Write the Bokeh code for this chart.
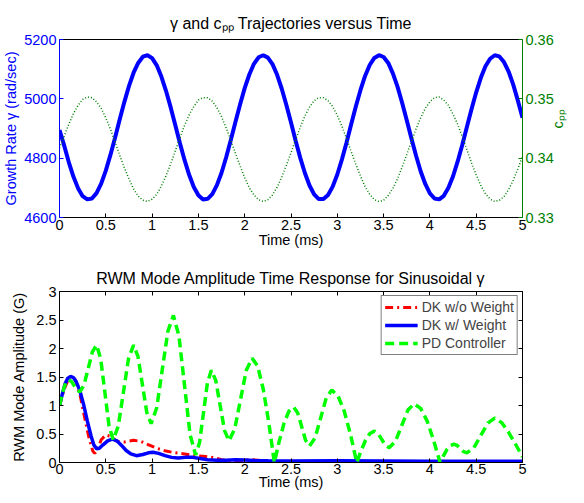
import math
from bokeh.plotting import figure
from bokeh.models import (Range1d, LinearAxis, FixedTicker, NumeralTickFormatter,
                          Legend, LegendItem)
from bokeh.layouts import column
from bokeh.embed import file_html
from bokeh.resources import INLINE

FONT = "Liberation Sans"
TICK_FS = "14.5px"
LABEL_FS = "14.5px"
TITLE_FS = "16px"
BLUE = "#0000ff"
GREEN_DK = "#008000"
LIME = "#00ff00"
RED = "#ff0000"

# ---------------- top panel data ----------------
time_ms = [i / 20 for i in range(101)]
growth_rate = [
    4895, 4843, 4787, 4738, 4699, 4672, 4661, 4664, 4682, 4714,
    4758, 4811, 4869, 4930, 4989, 5043, 5088, 5121, 5142, 5147,
    5137, 5113, 5075, 5027, 4972, 4912, 4851, 4794, 4744, 4703,
    4675, 4661, 4663, 4679, 4709, 4751, 4803, 4861, 4922, 4981,
    5036, 5082, 5118, 5140, 5147, 5139, 5117, 5081, 5034, 4979,
    4920, 4859, 4801, 4750, 4708, 4678, 4662, 4662, 4676, 4704,
    4745, 4796, 4853, 4914, 4974, 5029, 5077, 5114, 5138, 5147,
    5141, 5121, 5086, 5041, 4987, 4928, 4867, 4809, 4756, 4713,
    4681, 4664, 4661, 4673, 4700, 4739, 4789, 4845, 4906, 4966,
    5022, 5071, 5110, 5135, 5147, 5143, 5124, 5092, 5048, 4994,
    4936,
]
c_pp = [
    0.3417, 0.3437, 0.3457, 0.3475, 0.3489, 0.3499, 0.3503, 0.3502, 0.3495, 0.3484,
    0.3468, 0.3449, 0.3427, 0.3405, 0.3384, 0.3365, 0.3348, 0.3336, 0.3329, 0.3327,
    0.3331, 0.3339, 0.3353, 0.3370, 0.3390, 0.3412, 0.3434, 0.3455, 0.3473, 0.3487,
    0.3498, 0.3502, 0.3502, 0.3496, 0.3485, 0.3470, 0.3451, 0.3430, 0.3408, 0.3387,
    0.3367, 0.3350, 0.3338, 0.3330, 0.3327, 0.3330, 0.3338, 0.3351, 0.3368, 0.3388,
    0.3409, 0.3431, 0.3452, 0.3471, 0.3486, 0.3497, 0.3502, 0.3502, 0.3497, 0.3487,
    0.3472, 0.3454, 0.3433, 0.3411, 0.3390, 0.3370, 0.3352, 0.3339, 0.3330, 0.3327,
    0.3329, 0.3337, 0.3349, 0.3365, 0.3385, 0.3406, 0.3428, 0.3449, 0.3468, 0.3484,
    0.3495, 0.3502, 0.3503, 0.3498, 0.3489, 0.3474, 0.3457, 0.3436, 0.3414, 0.3392,
    0.3372, 0.3354, 0.3340, 0.3331, 0.3327, 0.3329, 0.3335, 0.3347, 0.3363, 0.3382,
    0.3403,
]

# ---------------- bottom panel data ----------------
dk_wo_t = [0, 0.05, 0.10, 0.13, 0.17, 0.22, 0.27, 0.32, 0.36, 0.38,
           0.41, 0.45, 0.50, 0.55, 0.62, 0.70, 0.80, 0.88, 0.95, 1.05,
           1.15, 1.25, 1.35, 1.45, 1.55, 1.65, 1.75, 1.85, 1.95, 2.05,
           2.15, 2.30, 2.50, 3.00, 4.00, 5.00]
dk_wo_amp = [1.00, 1.28, 1.48, 1.52, 1.45, 1.20, 0.80, 0.42, 0.20, 0.16,
             0.22, 0.40, 0.48, 0.46, 0.37, 0.36, 0.39, 0.37, 0.32, 0.25,
             0.20, 0.17, 0.15, 0.12, 0.11, 0.09, 0.05, 0.02, 0.03, 0.05,
             0.04, 0.02, 0.01, 0.01, 0.01, 0.01]

dk_w_t = [0, 0.03, 0.06, 0.09, 0.12, 0.15, 0.18, 0.22, 0.26, 0.30,
          0.34, 0.37, 0.40, 0.43, 0.47, 0.52, 0.57, 0.62, 0.67, 0.72,
          0.77, 0.83, 0.90, 0.96, 1.01, 1.07, 1.14, 1.21, 1.28, 1.36,
          1.44, 1.52, 1.60, 1.70, 1.80, 1.90, 2.00, 2.10, 2.25, 2.50,
          3.00, 3.50, 4.00, 4.50, 5.00]
dk_w_amp = [1.00, 1.20, 1.38, 1.48, 1.51, 1.49, 1.42, 1.26, 1.02, 0.73,
            0.47, 0.31, 0.24, 0.25, 0.31, 0.38, 0.41, 0.38, 0.30, 0.21,
            0.15, 0.12, 0.14, 0.17, 0.18, 0.16, 0.12, 0.09, 0.08, 0.09,
            0.09, 0.07, 0.05, 0.04, 0.04, 0.05, 0.045, 0.035, 0.03, 0.025,
            0.03, 0.025, 0.02, 0.02, 0.02]

pd_t = [0,
        0.025, 0.05, 0.075, 0.10,
        0.13, 0.16, 0.19, 0.22,
        0.265, 0.31, 0.355, 0.40,
        0.445, 0.49, 0.535, 0.58,
        0.635, 0.69, 0.745, 0.80,
        0.8475, 0.895, 0.9425, 0.99,
        1.05, 1.11, 1.17, 1.23,
        1.29, 1.35, 1.41, 1.47,
        1.5125, 1.555, 1.5975, 1.64,
        1.6875, 1.735, 1.7825, 1.83,
        1.8925, 1.955, 2.0175, 2.08,
        2.14, 2.20, 2.26, 2.32,
        2.3725, 2.425, 2.4775, 2.53,
        2.5725, 2.615, 2.6575, 2.70,
        2.76, 2.82, 2.88, 2.94,
        3.0075, 3.075, 3.1425, 3.21,
        3.2575, 3.305, 3.3525, 3.40,
        3.44, 3.48, 3.52, 3.56,
        3.6275, 3.695, 3.7625, 3.83,
        3.90, 3.97, 4.04, 4.11,
        4.1475, 4.185, 4.2225, 4.26,
        4.295, 4.33, 4.365, 4.40,
        4.475, 4.55, 4.625, 4.70,
        4.775, 4.85, 4.925, 5.00]
pd_amp = [1.00,
          1.17, 1.32, 1.42, 1.45,
          1.42, 1.345, 1.27, 1.24,
          1.36, 1.65, 1.94, 2.06,
          1.82, 1.23, 0.64, 0.40,
          0.64, 1.23, 1.82, 2.06,
          1.86, 1.37, 0.88, 0.68,
          0.96, 1.63, 2.30, 2.58,
          2.22, 1.355, 0.49, 0.13,
          0.35, 0.875, 1.40, 1.62,
          1.44, 1.00, 0.56, 0.38,
          0.59, 1.105, 1.62, 1.83,
          1.69, 1.29, 0.70, 0.00,
          0.37, 0.69, 0.90, 0.97,
          0.87, 0.63, 0.39, 0.29,
          0.43, 0.78, 1.13, 1.27,
          1.17, 0.90, 0.49, 0.00,
          0.21, 0.39, 0.51, 0.55,
          0.51, 0.405, 0.30, 0.26,
          0.37, 0.645, 0.92, 1.03,
          0.95, 0.73, 0.39, 0.00,
          0.12, 0.23, 0.30, 0.32,
          0.30, 0.245, 0.19, 0.17,
          0.26, 0.475, 0.69, 0.78,
          0.70, 0.53, 0.32, 0.10]

time_ticks = [0, 0.5, 1, 1.5, 2, 2.5, 3, 3.5, 4, 4.5, 5]
gamma_ticks = [4600, 4800, 5000, 5200]
cpp_ticks = [0.33, 0.34, 0.35, 0.36]
amp_ticks = [0, 0.5, 1, 1.5, 2, 2.5, 3]

series_names = ["DK w/o Weight", "DK w/ Weight", "PD Controller"]
title_top = "γ and cₚₚ Trajectories versus Time"
title_bottom = "RWM Mode Amplitude Time Response for Sinusoidal γ"


def style_axis(ax, color, ticks, show_labels=True, tick_len=4):
    ax.ticker = FixedTicker(ticks=ticks)
    ax.formatter = NumeralTickFormatter(format="0.[00]")
    ax.axis_line_color = color
    ax.axis_line_width = 1
    ax.major_tick_line_color = color if tick_len > 0 else None
    ax.major_tick_in = tick_len
    ax.major_tick_out = 0
    ax.minor_tick_line_color = None
    ax.major_label_text_font = FONT
    if show_labels:
        ax.major_label_text_font_size = TICK_FS
        ax.major_label_text_color = color
        ax.major_label_standoff = 3
    else:
        ax.major_label_text_font_size = "1px"
        ax.major_label_text_color = None
        ax.major_label_standoff = 0
    ax.axis_label_text_font = FONT
    ax.axis_label_text_font_size = LABEL_FS
    ax.axis_label_text_font_style = "normal"
    ax.axis_label_text_color = color


def base_figure(height, top, bottom, y_range, title, title_standoff):
    p = figure(width=576, height=height, x_range=Range1d(0, 5), y_range=y_range,
               output_backend="svg", toolbar_location=None, title=title,
               min_border_left=54, min_border_right=54,
               min_border_top=top, min_border_bottom=bottom)
    p.grid.visible = False
    p.outline_line_color = None
    p.background_fill_color = "white"
    p.border_fill_color = "white"
    p.title.align = "center"
    p.title.text_font = FONT
    p.title.text_font_size = TITLE_FS
    p.title.text_font_style = "normal"
    p.title.text_color = "black"
    p.title.standoff = title_standoff
    return p


# ================= top figure =================
p1 = base_figure(254, 39, 37, Range1d(4600, 5200), title_top, 15)
p1.extra_y_ranges = {"cpp": Range1d(0.33, 0.36)}

xa = p1.xaxis[0]
style_axis(xa, "black", time_ticks)
xa.axis_label = "Time (ms)"
xa.axis_label_standoff = -1
xa.major_label_standoff = 2

ya = p1.yaxis[0]
style_axis(ya, BLUE, gamma_ticks)
ya.axis_label = "Growth Rate γ (rad/sec)"
ya.axis_label_standoff = 2

ra = LinearAxis(y_range_name="cpp")
style_axis(ra, GREEN_DK, cpp_ticks)
ra.axis_label = "cₚₚ"
ra.axis_label_standoff = 1
if "axis_label_orientation" in ra.properties():
    ra.axis_label_orientation = math.pi / 2
p1.add_layout(ra, "right")

ta = LinearAxis()
style_axis(ta, "black", time_ticks, show_labels=False, tick_len=0)
p1.add_layout(ta, "above")

p1.line(time_ms, growth_rate, line_color=BLUE, line_width=4)
p1.line(time_ms, c_pp, y_range_name="cpp", line_color=GREEN_DK,
        line_width=1.5, line_dash="1 2")

# ================= bottom figure =================
p2 = base_figure(240, 37, 32, Range1d(0, 3), title_bottom, 10)

xb = p2.xaxis[0]
style_axis(xb, "black", time_ticks)
xb.axis_label = "Time (ms)"
xb.axis_label_standoff = -3
xb.major_label_standoff = 1

yb = p2.yaxis[0]
style_axis(yb, "black", amp_ticks)
yb.axis_label = "RWM Mode Amplitude (G)"
yb.axis_label_standoff = 6

p2.extra_y_ranges = {"amp2": Range1d(0, 3)}
rb = LinearAxis(y_range_name="amp2")
style_axis(rb, "black", amp_ticks, show_labels=False)
p2.add_layout(rb, "right")

tb = LinearAxis()
style_axis(tb, "black", time_ticks, show_labels=False)
p2.add_layout(tb, "above")

r_red = p2.line(dk_wo_t, dk_wo_amp, line_color=RED, line_width=3,
                line_dash="8 4 2 4")
r_blue = p2.line(dk_w_t, dk_w_amp, line_color=BLUE, line_width=3.5)
r_green = p2.line(pd_t, pd_amp, line_color=LIME, line_width=3.5,
                  line_dash="9 5")

legend = Legend(items=[LegendItem(label=series_names[0], renderers=[r_red]),
                       LegendItem(label=series_names[1], renderers=[r_blue]),
                       LegendItem(label=series_names[2], renderers=[r_green])],
                location="top_right")
legend.margin = 4
legend.padding = 3
legend.spacing = 2
legend.label_height = 16
legend.glyph_height = 16
legend.glyph_width = 33
legend.label_standoff = 4
legend.label_text_font = FONT
legend.label_text_font_size = "14px"
legend.border_line_color = "black"
legend.border_line_width = 1
legend.background_fill_color = "white"
legend.background_fill_alpha = 1
p2.add_layout(legend)

layout = column(p1, p2)
open("out.html", "w").write(file_html(layout, INLINE))
